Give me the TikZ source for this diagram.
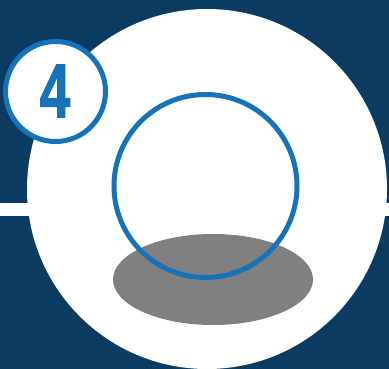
\documentclass[tikz,border=0pt]{standalone}
\usepackage{fontspec}
\setmainfont{Liberation Sans}
\newfontfamily\numfont[FakeBold=2]{Liberation Sans Bold}
\usetikzlibrary{shapes.geometric}
\definecolor{navy}{HTML}{0B3B60}
\definecolor{accent}{HTML}{1673B9}
\definecolor{shadow}{HTML}{808080}
\begin{document}
\begin{tikzpicture}[x=1pt,y=-1pt,
  disc/.style={circle, fill=white, inner sep=0pt, minimum size=#1},
  ring/.style={circle, draw=accent, line width=5pt, inner sep=0pt, minimum size=#1},
  numtext/.style={text=accent, inner sep=0pt, font=\fontsize{76}{76}\numfont}]
\fill[navy] (0,0) rectangle (389,369);
\useasboundingbox (0,0) rectangle (389,369);
\fill[white] (0,203.5) rectangle (389,216.5);
\node[disc=360pt] (big) at (207,189) {};
\node[ellipse, fill=shadow, minimum width=200pt, minimum height=91pt, inner sep=0pt] (sh) at (213,279.5) {};
\node[ring=183pt] (ball) at (205.5,186) {};
\node[ring=100pt, fill=white] (badge) at (55.5,91.5) {};
\node[numtext] (num) at (55,91) {\scalebox{0.72}[1]{4}};
\end{tikzpicture}
\end{document}
